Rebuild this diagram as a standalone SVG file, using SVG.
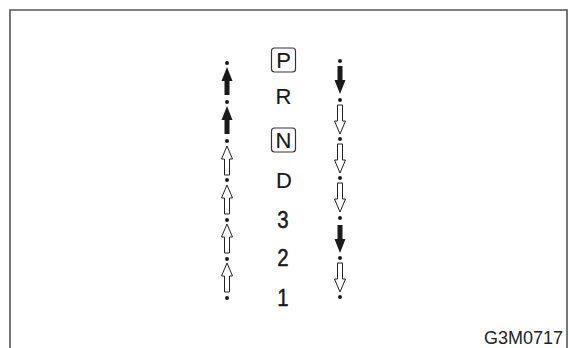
<svg xmlns="http://www.w3.org/2000/svg" width="569" height="348" viewBox="0 0 569 348">
<style>
.frame{fill:none;stroke:#555;stroke-width:1.6}
.lbl{font-family:"Liberation Sans",Arial,sans-serif;fill:#1a1a1a;text-anchor:middle}
.pos{font-size:22px;stroke:#1a1a1a;stroke-width:0.15}
.dig{font-size:24px;stroke:#1a1a1a;stroke-width:0.5}
.box{fill:none;stroke:#333;stroke-width:1.2}
.dot{fill:#1a1a1a}
.fa{fill:#1a1a1a}
.ha{fill:#fff;stroke:#222;stroke-width:1}
.code{font-family:"Liberation Sans",Arial,sans-serif;font-size:18px;fill:#222;text-anchor:end}
</style>
<defs>
<path id="up" d="M0,0 L5.5,14 L2.5,14 L2.5,28 L-2.5,28 L-2.5,14 L-5.5,14 Z"/>
<path id="upo" d="M0,0 L5.5,13 L2.5,13 L2.5,29 L-2.5,29 L-2.5,13 L-5.5,13 Z"/>
<circle id="d" r="2"/>
</defs>
<rect width="569" height="348" fill="#fff"/>
<path class="frame" d="M10,348 L10,10 L567,10 L567,348"/>

<g id="positions">
<g id="P"><rect class="box" x="271.5" y="48" width="24" height="24" rx="3"/><text class="lbl pos" x="283.5" y="68">P</text></g>
<g id="R"><text class="lbl pos" x="283.5" y="104">R</text></g>
<g id="N"><rect class="box" x="271.5" y="128" width="24" height="24" rx="3"/><text class="lbl pos" x="283.5" y="148">N</text></g>
<g id="D"><text class="lbl pos" x="284" y="188">D</text></g>
<g id="3"><text class="lbl dig" transform="translate(283,228) scale(0.85,1)">3</text></g>
<g id="2"><text class="lbl dig" transform="translate(283,266) scale(0.85,1)">2</text></g>
<g id="1"><text class="lbl dig" transform="translate(283,306) scale(0.85,1)">1</text></g>
</g>

<g id="connectors">
<g id="upshift">
<use href="#d" class="dot" x="227" y="63"/>
<use href="#d" class="dot" x="227" y="102"/>
<use href="#d" class="dot" x="227" y="141"/>
<use href="#d" class="dot" x="227" y="180"/>
<use href="#d" class="dot" x="227" y="220"/>
<use href="#d" class="dot" x="227" y="259"/>
<use href="#d" class="dot" x="227" y="298"/>
<use href="#up" class="fa" x="227" y="67"/>
<use href="#up" class="fa" x="227" y="106"/>
<use href="#upo" class="ha" x="227" y="146"/>
<use href="#upo" class="ha" x="227" y="185"/>
<use href="#upo" class="ha" x="227" y="224"/>
<use href="#upo" class="ha" x="227" y="263"/>
</g>
<g id="downshift">
<use href="#d" class="dot" x="340" y="61"/>
<use href="#d" class="dot" x="340" y="100"/>
<use href="#d" class="dot" x="340" y="139"/>
<use href="#d" class="dot" x="340" y="178"/>
<use href="#d" class="dot" x="340" y="218"/>
<use href="#d" class="dot" x="340" y="258"/>
<use href="#d" class="dot" x="340" y="297"/>
<use href="#up" class="fa" transform="translate(340,94) rotate(180)"/>
<use href="#upo" class="ha" transform="translate(340,134) rotate(180)"/>
<use href="#upo" class="ha" transform="translate(340,173) rotate(180)"/>
<use href="#upo" class="ha" transform="translate(340,212) rotate(180)"/>
<use href="#up" class="fa" transform="translate(340,253) rotate(180)"/>
<use href="#upo" class="ha" transform="translate(340,292) rotate(180)"/>
</g>
</g>

<text id="code" class="code" x="563" y="344">G3M0717</text>
</svg>
